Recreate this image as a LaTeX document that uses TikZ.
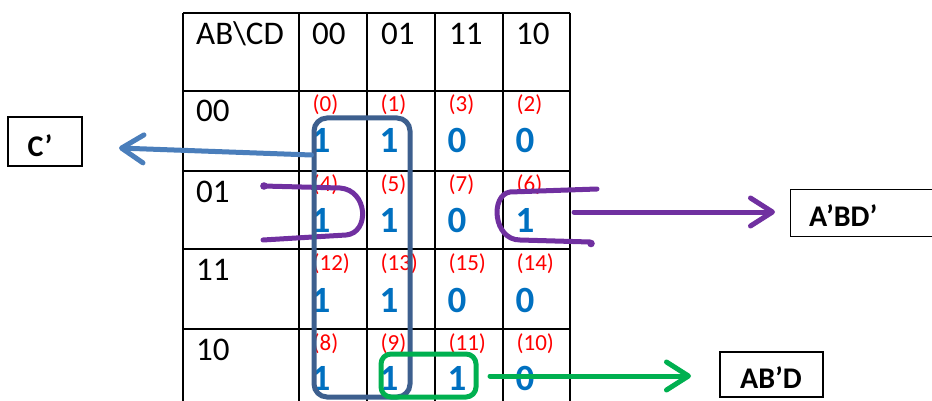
\documentclass[tikz,border=0pt]{standalone}
\usepackage{fontspec}
\setmainfont{Carlito}
\usetikzlibrary{arrows.meta}
\definecolor{idxred}{RGB}{255,0,0}
\definecolor{digblue}{RGB}{0,112,192}
\definecolor{grpblue}{RGB}{61,95,142}
\definecolor{arrblue}{RGB}{74,126,187}
\definecolor{grppurple}{RGB}{112,48,160}
\definecolor{grpgreen}{RGB}{0,176,80}
\tikzset{
  gridline/.style={line width=2pt, black},
  hdr/.style={inner sep=0pt, anchor=base west, font=\fontsize{33}{38}\selectfont},
  idx/.style={inner sep=0pt, anchor=base west, text=idxred, font=\fontsize{23}{26}\selectfont},
  dig/.style={inner sep=0pt, anchor=base west, text=digblue, font=\fontsize{37}{40}\selectfont\bfseries},
  termbox/.style={draw=black, line width=1.3pt, inner sep=0pt},
  termtext/.style={inner sep=0pt, font=\fontsize{30}{34}\selectfont\bfseries},
  grp/.style={draw=#1, line width=5pt, inner sep=0pt},
  conn/.style={line width=5pt, line cap=round,
    -{Straight Barb[length=22pt,width=28pt,line cap=round,line join=round]}},
  loopline/.style={draw=grppurple, line width=5pt, line cap=round, line join=round},
}
\begin{document}
\begin{tikzpicture}[x=1pt,y=-1pt]
\useasboundingbox (0,0) rectangle (932,401);
% grid
\foreach \yy in {13,91,171,249,329}
  \draw[gridline] (183,\yy) -- (570,\yy);
\foreach \xx in {183,299,367,435,503,570}
  \draw[gridline] (\xx,13) -- (\xx,401);
% headers
\node[hdr] (hab) at (196,45) {AB\textbackslash CD};
\node[hdr] (hc0) at (312,45) {00};
\node[hdr] (hc1) at (381,45) {01};
\node[hdr] (hc3) at (449,45) {11};
\node[hdr] (hc2) at (516,45) {10};
\node[hdr] (hr0) at (196,122) {00};
\node[hdr] (hr1) at (196,203) {01};
\node[hdr] (hr3) at (196,280) {11};
\node[hdr] (hr2) at (196,360) {10};
% cells
\foreach \L/\T/\B/\n/\v in {
  299/91/153/0/1, 367/91/153/1/1, 435/91/153/3/0, 503/91/153/2/0,
  299/171/233/4/1, 367/171/233/5/1, 435/171/233/7/0, 503/171/233/6/1,
  299/249/312/12/1, 367/249/312/13/1, 435/249/312/15/0, 503/249/312/14/0,
  299/329/390/8/1, 367/329/390/9/1, 435/329/390/11/1, 503/329/390/10/0}{
  \node[idx] (i\n) at (\L+13.5,\T+21) {(\n)};
  \node[dig] (v\n) at (\L+12.5,\B) {\v};
}
% purple loops (A'BD')
\draw[loopline] (263,186) -- (340,188)
  .. controls (368,190) and (370,233) .. (346,235) -- (263,240);
\fill[grppurple] (264,186) circle (3.8);
\draw[loopline] (597,189) -- (510,192)
  .. controls (490,195) and (493,240) .. (520,240) -- (590,242);
\fill[grppurple] (591,243.5) circle (3.8);
% groups
\node[grp=grpblue, rounded corners=13pt, minimum width=96, minimum height=279] (gc) at (362,257.5) {};
\node[grp=grpgreen, rounded corners=10pt, minimum width=95, minimum height=43] (gabd) at (428.5,375.5) {};
% term boxes
\node[termbox, minimum width=74, minimum height=49] (cbox) at (45,141.5) {};
\node[termtext, anchor=base] (ctext) at (40,157) {C’};
\node[termbox, anchor=north west, minimum width=170, minimum height=47] (abdbox) at (790,189) {};
\node[termtext, anchor=base west] (abdtext) at (809,226) {A’BD’};
\node[termbox, minimum width=103, minimum height=45] (abpdbox) at (771.5,374.5) {};
\node[termtext, anchor=base] (abpdtext) at (771,388) {AB’D};
% arrows
\coordinate (cstart) at (gc.west |- 0,155);
\coordinate (cend) at (119,148);
\draw[conn, draw=arrblue] (cstart) -- (cend);
\coordinate (pstart) at (574,212);
\coordinate (pend) at (775,212);
\draw[conn, draw=grppurple] (pstart) -- (pend);
\coordinate (gstart) at (490,376);
\coordinate (gend) at (691,376);
\draw[conn, draw=grpgreen] (gstart) -- (gend);
\end{tikzpicture}
\end{document}
